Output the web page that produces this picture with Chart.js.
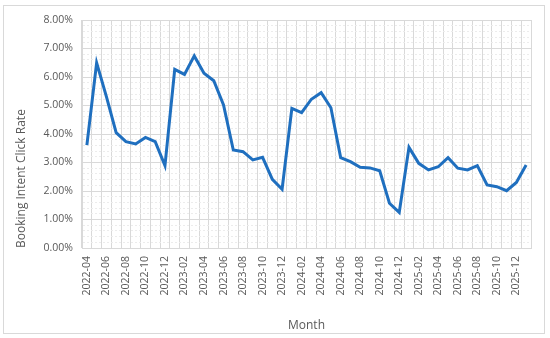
<!DOCTYPE html>
<html>
<head>
<meta charset="utf-8">
<script src="https://cdn.jsdelivr.net/npm/chart.js@4.4.1/dist/chart.umd.min.js"></script>
<style>
  html, body { margin: 0; padding: 0; background: #fff; }
  #wrap { position: relative; width: 550px; height: 338px; }
  #frame { position: absolute; left: 3px; top: 5px; width: 542px; height: 329px; border: 1px solid #d9d9d9; box-sizing: border-box; pointer-events: none; }
  canvas { position: absolute; left: 0; top: 0; }
</style>
</head>
<body>
<div id="wrap">
  <canvas id="rateChart" width="550" height="338"></canvas>
  <div id="frame"></div>
</div>
<script>
//months on the x axis
var months = [
  '2022-04','2022-05','2022-06','2022-07','2022-08','2022-09','2022-10','2022-11','2022-12',
  '2023-01','2023-02','2023-03','2023-04','2023-05','2023-06','2023-07','2023-08','2023-09','2023-10','2023-11','2023-12',
  '2024-01','2024-02','2024-03','2024-04','2024-05','2024-06','2024-07','2024-08','2024-09','2024-10','2024-11','2024-12',
  '2025-01','2025-02','2025-03','2025-04','2025-05','2025-06','2025-07','2025-08','2025-09','2025-10','2025-11','2025-12',
  '2026-01'
];
//booking intent click rate, in percent
var clickRate = [
  3.61, 6.50, 5.31, 4.05, 3.73, 3.65, 3.88, 3.73, 2.89,
  6.27, 6.09, 6.74, 6.13, 5.87, 5.02, 3.44, 3.38, 3.09, 3.18, 2.41, 2.06,
  4.90, 4.75, 5.22, 5.45, 4.92, 3.17, 3.03, 2.83, 2.81, 2.71, 1.57, 1.25,
  3.53, 2.97, 2.74, 2.85, 3.17, 2.80, 2.74, 2.89, 2.21, 2.15, 2.01, 2.30,
  2.91
];
//y axis range and steps
var yMin = 0;
var yMax = 8;
var yMajorStep = 1;
var yMinorStep = 0.2;

function isMajor(v) {
  return Math.abs(v / yMajorStep - Math.round(v / yMajorStep)) < 1e-6;
}

var tickFont = { family: "'Open Sans', 'Liberation Sans', sans-serif", size: 10.5 };
var titleFont = { family: "'Open Sans', 'Liberation Sans', sans-serif", size: 12 };

const data = {
  labels: months,
  datasets: [{
    data: clickRate,
    borderColor: '#1f6fbf',
    borderWidth: 3,
    pointRadius: 0,
    tension: 0,
    fill: false
  }]
};

const config = {
  type: 'line',
  data: data,
  options: {
    responsive: false,
    animation: false,
    layout: { padding: { left: 10, right: 19, top: 20, bottom: 3 } },
    plugins: {
      legend: { display: false },
      tooltip: { enabled: false }
    },
    scales: {
      x: {
        offset: true,
        grid: { offset: true, color: '#d9d9d9', drawTicks: false },
        border: { color: '#d9d9d9' },
        ticks: {
          autoSkip: false,
          minRotation: 90,
          maxRotation: 90,
          padding: 8,
          color: '#595959',
          font: tickFont,
          callback: function (val, i) {
            return i % 2 === 0 ? this.getLabelForValue(val) : '';
          }
        },
        title: { display: true, text: 'Month', color: '#595959', font: titleFont, padding: { top: 0, bottom: 2 } },
        afterFit: function (scale) { scale.height = 338 - 248 - 3; }
      },
      y: {
        min: yMin,
        max: yMax,
        grid: {
          drawTicks: false,
          color: function (ctx) { return isMajor(ctx.tick.value) ? '#d9d9d9' : '#ececec'; }
        },
        border: {
          color: '#d9d9d9',
          dash: function (ctx) { return ctx.tick && !isMajor(ctx.tick.value) ? [2, 2] : []; }
        },
        ticks: {
          stepSize: yMinorStep,
          autoSkip: false,
          padding: 9,
          color: '#595959',
          font: tickFont,
          callback: function (v) { return isMajor(v) ? v.toFixed(2) + '%' : ''; }
        },
        title: { display: true, text: 'Booking Intent Click Rate', align: 'start', color: '#595959', font: titleFont, padding: { top: 4, bottom: 4 } },
        afterFit: function (scale) { scale.width = 82 - 10; }
      }
    }
  }
};

var ctx = document.getElementById('rateChart');
var rateChart = new Chart(ctx, config);
</script>
</body>
</html>
